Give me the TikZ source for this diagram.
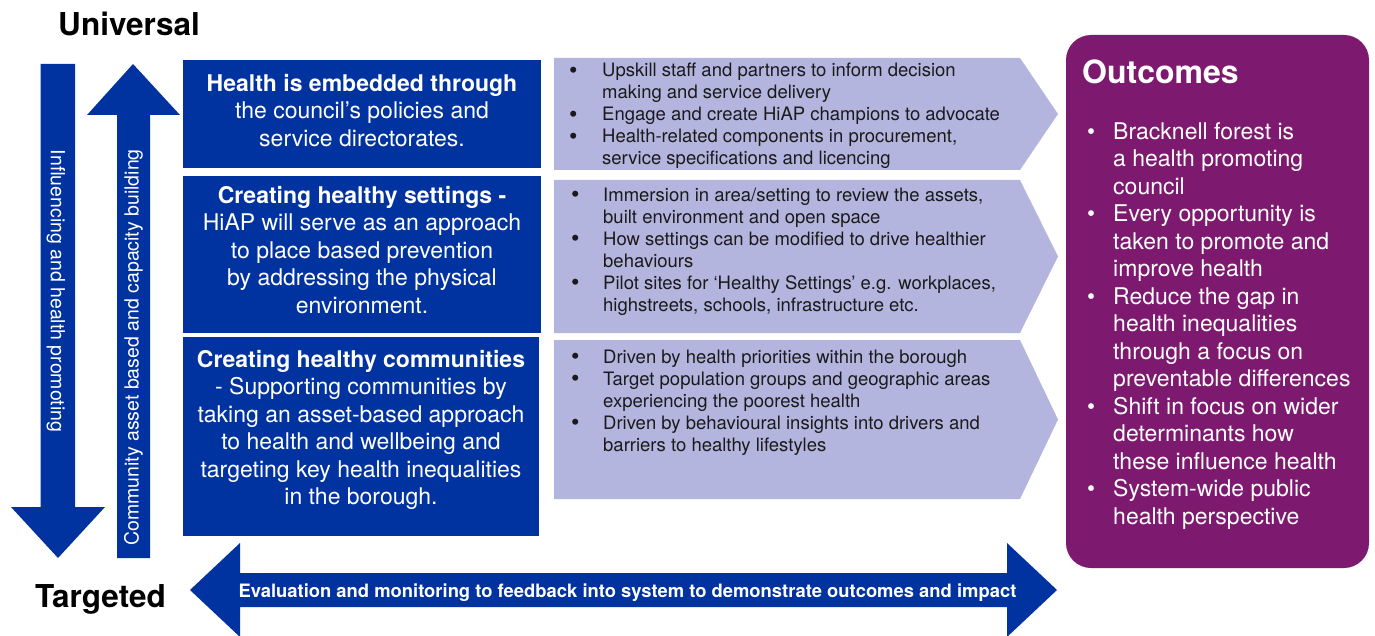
\documentclass[tikz,border=0pt]{standalone}
\usepackage{fontspec}
\setmainfont{TeX Gyre Heros}
\definecolor{hblue}{HTML}{0033A0}
\definecolor{hlav}{HTML}{B3B5DF}
\definecolor{hpurp}{HTML}{7D1A6F}
\definecolor{htext}{HTML}{1A1A1A}
\newcommand\mybul{\raisebox{-0.06em}{\scalebox{1.3}{\textbullet}}}
\tikzset{
  bluebox/.style={fill=hblue, draw=none, anchor=north west, inner sep=0pt},
  arrowfill/.style={fill=hblue, draw=none},
  chevfill/.style={fill=hlav, draw=none},
  wtext/.style={text=white, inner sep=0pt, anchor=base, font=\fontsize{23}{27.5}\selectfont},
  ctext/.style={text=htext, inner sep=0pt, anchor=base west, font=\fontsize{18.5}{22}\selectfont},
  otext/.style={text=white, inner sep=0pt, anchor=base west, font=\fontsize{23}{27.5}\selectfont},
  sidelabel/.style={text=white, inner sep=0pt, font=\fontsize{19.5}{20}\selectfont},
  endlabel/.style={text=black, inner sep=0pt, anchor=base west, font=\bfseries\fontsize{31.5}{32}\selectfont},
}
\begin{document}
\begin{tikzpicture}[x=1pt,y=-1pt]
\useasboundingbox (0,0) rectangle (1375,636);

% end labels
\node[endlabel] (univ) at (58,36) {Universal};
\node[endlabel] (targ) at (35,607) {Targeted};

% vertical arrows
\fill[arrowfill] (40.5,64) -- (75,64) -- (75,507) -- (105,507) -- (58,558) -- (11,507) -- (40.5,507) -- cycle;
\fill[arrowfill] (133,64) -- (180,115) -- (150,115) -- (150,558) -- (117,558) -- (117,115) -- (87,115) -- cycle;
\node[sidelabel, rotate=-90] (infl) at (56,291) {Influencing and health promoting};
\node[sidelabel, rotate=90] (comm) at (133.5,347.5) {Community asset based and capacity building};

% blue boxes
\node[bluebox, minimum width=358pt, minimum height=108pt] (b1) at (183,60) {};
\node[bluebox, minimum width=358pt, minimum height=157pt] (b2) at (183,176) {};
\node[bluebox, minimum width=356pt, minimum height=199pt] (b3) at (183,337) {};

\node[wtext] (t1) at (362,91.5) {\begin{tabular}[t]{@{}c@{}}\textbf{Health is embedded through}\\the council’s policies and\\service directorates.\end{tabular}};
\node[wtext] (t2) at (362,203.3) {\begin{tabular}[t]{@{}c@{}}\textbf{Creating healthy settings -}\\HiAP will serve as an approach\\to place based prevention\\by addressing the physical\\environment.\end{tabular}};
\node[wtext] (t3) at (361,367.3) {\begin{tabular}[t]{@{}c@{}}\textbf{Creating healthy communities}\\- Supporting communities by\\taking an asset-based approach\\to health and wellbeing and\\targeting key health inequalities\\in the borough.\end{tabular}};

% chevrons
\fill[chevfill] (554,58) -- (1020,58) -- (1058,114) -- (1020,170) -- (554,170) -- cycle;
\fill[chevfill] (554,180) -- (1020,180) -- (1058,256.5) -- (1020,333) -- (554,333) -- cycle;
\fill[chevfill] (554,340) -- (1020,340) -- (1058,419.5) -- (1020,499) -- (554,499) -- cycle;

\node[ctext] (c1) at (569,77) {\begin{tabular}[t]{@{}p{33pt}@{}l@{}}
\mybul & Upskill staff and partners to inform decision\\
 & making and service delivery\\
\mybul & Engage and create HiAP champions to advocate\\
\mybul & Health-related components in procurement,\\
 & service specifications and licencing\end{tabular}};
\node[ctext] (c2) at (571,201.5) {\begin{tabular}[t]{@{}p{32pt}@{}l@{}}
\mybul & Immersion in area/setting to review the assets,\\
 & built environment and open space\\
\mybul & How settings can be modified to drive healthier\\
 & behaviours\\
\mybul & Pilot sites for ‘Healthy Settings’ e.g. workplaces,\\
 & highstreets, schools, infrastructure etc.\end{tabular}};
\node[ctext] (c3) at (571,363.3) {\begin{tabular}[t]{@{}p{32pt}@{}l@{}}
\mybul & Driven by health priorities within the borough\\
\mybul & Target population groups and geographic areas\\
 & experiencing the poorest health\\
\mybul & Driven by behavioural insights into drivers and\\
 & barriers to healthy lifestyles\end{tabular}};

% outcomes
\fill[hpurp, rounded corners=25pt] (1066,35) rectangle (1369,568);
\node[text=white, inner sep=0pt, anchor=base west, font=\bfseries\fontsize{32}{32}\selectfont] (oh) at (1082,84) {Outcomes};
\node[otext] (ol) at (1087,139.5) {\begin{tabular}[t]{@{}p{26pt}@{}l@{}}
\textbullet & Bracknell forest is\\
 & a health promoting\\
 & council\\
\textbullet & Every opportunity is\\
 & taken to promote and\\
 & improve health\\
\textbullet & Reduce the gap in\\
 & health inequalities\\
 & through a focus on\\
 & preventable differences\\
\textbullet & Shift in focus on wider\\
 & determinants how\\
 & these influence health\\
\textbullet & System-wide public\\
 & health perspective\end{tabular}};

% bottom double arrow
\fill[arrowfill] (190,590) -- (240,543) -- (240,573) -- (1007,573) -- (1007,543) -- (1057,590) -- (1007,637) -- (1007,607) -- (240,607) -- (240,637) -- cycle;
\node[text=white, inner sep=0pt, anchor=base, font=\bfseries\fontsize{18.4}{20}\selectfont] (eval) at (627.5,597) {Evaluation and monitoring to feedback into system to demonstrate outcomes and impact};
\end{tikzpicture}
\end{document}
